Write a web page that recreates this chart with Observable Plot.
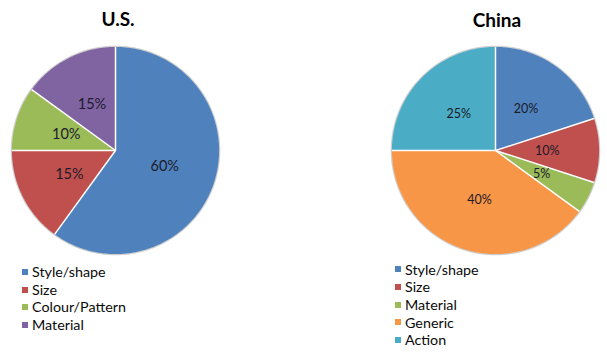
<!DOCTYPE html>
<html><head><meta charset="utf-8">
<script src="https://cdn.jsdelivr.net/npm/d3@7"></script>
<script src="https://cdn.jsdelivr.net/npm/@observablehq/plot@0.6"></script>
<style>
body{margin:0;background:#fff;font-family:Lato,"Open Sans",sans-serif;}
#root{position:relative;width:607px;height:352px;overflow:hidden;background:#fff;}
.title{position:absolute;font-weight:bold;font-size:19px;line-height:19px;color:#000;transform:translateX(-50%);white-space:nowrap;}
.legend{position:absolute;font-size:14.3px;color:#0a0a0a;}
.legend .row{height:17.7px;line-height:17.7px;display:flex;align-items:center;white-space:nowrap;}
.legend .sw{display:inline-block;width:6px;height:6px;margin-right:4px;}
</style></head>
<body><div id="root"></div>
<script>
const usCategories = ["Style/shape","Size","Colour/Pattern","Material"];
const usValues = [60,15,10,15];
const usLabels = ["60%","15%","10%","15%"];
const usColors = ["#4F81BD","#C0504D","#9BBB59","#8064A2"];
const chinaCategories = ["Style/shape","Size","Material","Generic","Action"];
const chinaValues = [20,10,5,40,25];
const chinaLabels = ["20%","10%","5%","40%","25%"];
const chinaColors = ["#4F81BD","#C0504D","#9BBB59","#F79646","#4BACC6"];

function makePie(cats, vals, labels, colors, fontSize) {
  const arcs = d3.pie().sort(null).value(d => d)(vals);
  const pts = [];
  const bounds = [];
  const labs = [];
  arcs.forEach((a, i) => {
    const c = cats[i];
    pts.push({cat: c, x: 0, y: 0});
    const n = Math.max(2, Math.ceil((a.endAngle - a.startAngle) / 0.01));
    for (let k = 0; k <= n; k++) {
      const t = a.startAngle + (a.endAngle - a.startAngle) * k / n;
      pts.push({cat: c, x: Math.sin(t), y: Math.cos(t)});
    }
    pts.push({cat: c, x: 0, y: 0});
    bounds.push({x1: 0, y1: 0, x2: Math.sin(a.startAngle), y2: Math.cos(a.startAngle)});
    const m = (a.startAngle + a.endAngle) / 2;
    labs.push({x: 0.5 * Math.sin(m), y: 0.5 * Math.cos(m), text: labels[i]});
  });
  const ring = d3.range(0, 361, 2).map(d => ({x: 1.004 * Math.sin(d * Math.PI / 180), y: 1.004 * Math.cos(d * Math.PI / 180)}));
  return Plot.plot({
    width: 230, height: 230, margin: 0,
    x: {domain: [-1.11, 1.11], axis: null},
    y: {domain: [-1.11, 1.11], axis: null},
    color: {domain: cats, range: colors},
    style: {background: "transparent", fontFamily: "Lato, sans-serif"},
    marks: [
      Plot.line(ring, {x: "x", y: "y", stroke: "#cfcfcf", strokeWidth: 1.5}),
      Plot.line(pts, {x: "x", y: "y", z: "cat", fill: "cat", stroke: "none"}),
      Plot.link(bounds, {x1: "x1", y1: "y1", x2: "x2", y2: "y2", stroke: "white", strokeWidth: 1.5}),
      Plot.text(labs, {x: "x", y: "y", text: "text", fontSize, fill: "#1b1b2b"})
    ]
  });
}

function place(el, left, top) {
  el.style.position = "absolute";
  el.style.left = left + "px";
  el.style.top = top + "px";
  return el;
}

const root = document.getElementById("root");

function addTitle(text, cx, top) {
  const d = document.createElement("div");
  d.className = "title";
  d.textContent = text;
  d.style.left = cx + "px";
  d.style.top = top + "px";
  root.appendChild(d);
}

function addLegend(cats, colors, left, top) {
  const d = document.createElement("div");
  d.className = "legend";
  d.style.left = left + "px";
  d.style.top = top + "px";
  cats.forEach((c, i) => {
    const r = document.createElement("div");
    r.className = "row";
    const s = document.createElement("span");
    s.className = "sw";
    s.style.background = colors[i];
    r.appendChild(s);
    r.appendChild(document.createTextNode(c));
    d.appendChild(r);
  });
  root.appendChild(d);
}

addTitle("U.S.", 118, 9);
addTitle("China", 497, 10);
root.appendChild(place(makePie(usCategories, usValues, usLabels, usColors, 14.5), 0, 35));
root.appendChild(place(makePie(chinaCategories, chinaValues, chinaLabels, chinaColors, 12.5), 380, 35));
addLegend(usCategories, usColors, 22, 263);
addLegend(chinaCategories, chinaColors, 395, 260.5);
</script></body></html>
